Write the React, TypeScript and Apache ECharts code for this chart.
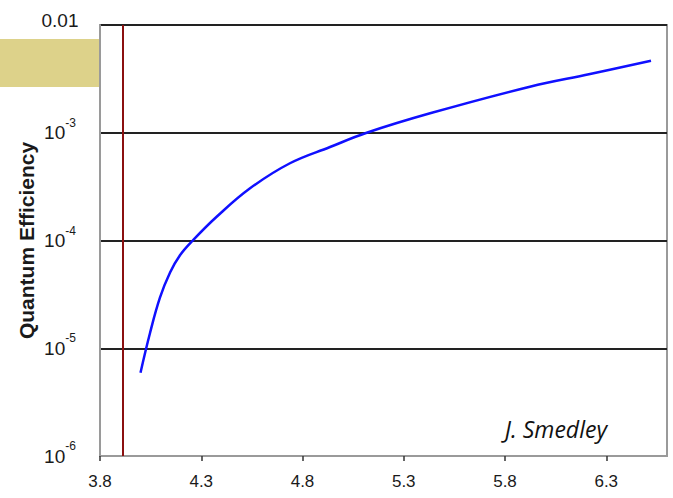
import React, { useEffect, useRef } from "react";
import * as echarts from "echarts";

const photonEnergy = [4.0, 4.047, 4.096, 4.146, 4.195, 4.258, 4.376, 4.541, 4.738, 4.936, 5.117, 5.43, 5.923, 6.22, 6.521];
const quantumEfficiency = [5.93e-6, 1.385e-5, 2.95e-5, 5.05e-5, 7.3e-5, 1.0e-4, 1.66e-4, 3.05e-4, 5.21e-4, 7.37e-4, 1.0e-3, 1.515e-3, 2.675e-3, 3.51e-3, 4.66e-3];
const xTickValues = [3.8, 4.3, 4.8, 5.3, 5.8, 6.3];
const thresholdEnergy = 3.914;
const yAxisTitle = "Quantum Efficiency";
const creditText = "J. Smedley";

export default function App() {
  const ref = useRef<HTMLDivElement>(null);
  useEffect(() => {
    if (!ref.current) return;
    const chart = echarts.init(ref.current, null, { renderer: "svg" });
    const data = photonEnergy.map((x, i) => [x, quantumEfficiency[i]]);
    const ff = "Liberation Sans, Arial, sans-serif";
    chart.setOption({
      animation: false,
      backgroundColor: "#ffffff",
      grid: {
        left: 100,
        right: 6,
        top: 25,
        bottom: 42,
        show: true,
        borderColor: "#9a9a9a",
        borderWidth: 2,
        backgroundColor: "transparent",
      },
      xAxis: {
        type: "value",
        min: 3.8,
        max: 6.6,
        axisLine: { show: true, lineStyle: { color: "#9a9a9a", width: 2 } },
        axisTick: {
          show: true,
          customValues: xTickValues,
          length: 5,
          lineStyle: { color: "#333", width: 1.5 },
        },
        splitLine: { show: false },
        axisLabel: {
          customValues: xTickValues,
          formatter: (v: number) => v.toFixed(1),
          fontFamily: ff,
          fontSize: 17,
          color: "#1a1a1a",
          margin: 17,
        },
      },
      yAxis: {
        type: "log",
        logBase: 10,
        min: 1e-6,
        max: 0.01,
        name: yAxisTitle,
        nameLocation: "middle",
        nameGap: 63,
        nameRotate: 90,
        nameMoveOverlap: false,
        nameTextStyle: {
          fontFamily: ff,
          fontWeight: "bold",
          fontSize: 21,
          color: "#1a1a1a",
        },
        axisLine: { show: true, lineStyle: { color: "#9a9a9a", width: 2 } },
        axisTick: { show: false },
        splitLine: {
          show: true,
          showMinLine: false,
          showMaxLine: false,
          lineStyle: { color: "#222", width: 2 },
        },
        axisLabel: {
          align: "center",
          margin: 40,
          fontFamily: ff,
          color: "#1a1a1a",
          formatter: (v: number) => {
            const e = Math.round(Math.log10(v));
            if (e === -2) return "{top|0.01}";
            return "{base|10}{sup|" + e + "}";
          },
          rich: {
            top: { fontSize: 19, color: "#1a1a1a", padding: [0, 0, 10, 0], fontFamily: ff },
            base: { fontSize: 19, color: "#1a1a1a", fontFamily: ff },
            sup: { fontSize: 12, lineHeight: 12, color: "#1a1a1a", padding: [0, 0, 20, 0], fontFamily: ff },
          },
        },
      },
      series: [
        {
          type: "line",
          data,
          smooth: 0.4,
          showSymbol: false,
          lineStyle: { color: "#1010ff", width: 2.5 },
          markLine: {
            silent: true,
            symbol: ["none", "none"],
            label: { show: false },
            lineStyle: { color: "#8b1010", width: 2, type: "solid" },
            data: [{ xAxis: thresholdEnergy }],
          },
        },
      ],
      graphic: [
        {
          type: "rect",
          left: 0,
          top: 39,
          shape: { width: 99, height: 48 },
          style: { fill: "#ddd28a" },
        },
        {
          type: "text",
          right: 673 - 607,
          top: 417,
          style: {
            text: creditText,
            font: "italic 23px 'Open Sans', sans-serif",
            fill: "#111",
          },
        },
      ],
    });
    return () => chart.dispose();
  }, []);
  return (
    <div
      ref={ref}
      style={{ position: "fixed", left: 0, top: 0, width: 673, height: 498 }}
    />
  );
}
